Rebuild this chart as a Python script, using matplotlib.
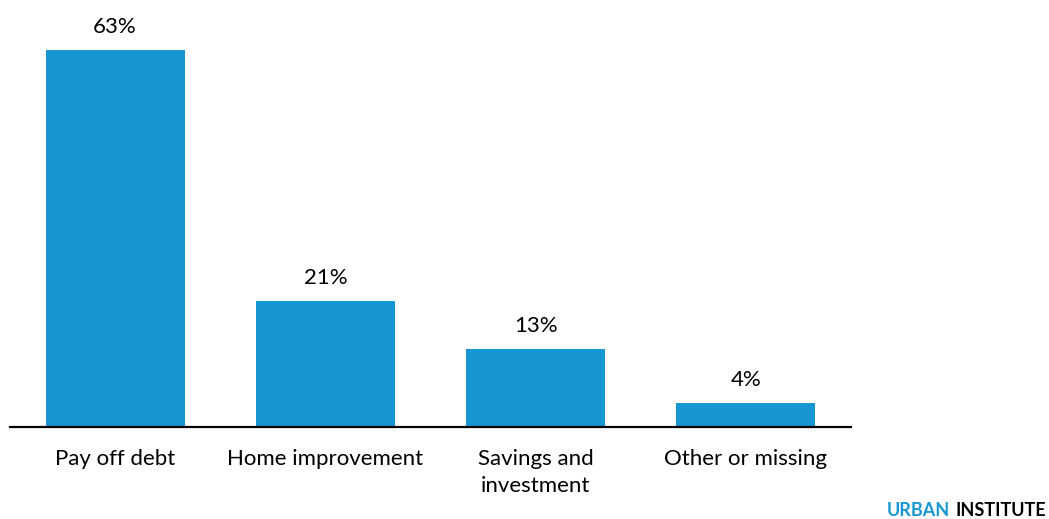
import matplotlib
matplotlib.use('Agg')
import matplotlib.pyplot as plt

plt.rcParams['font.family'] = ['Lato', 'DejaVu Sans']

# data
categories = ['Pay off debt', 'Home improvement', 'Savings and\ninvestment', 'Other or missing']
shares = [63, 21, 13, 4]

blue = '#1696d2'

fig = plt.figure(figsize=(10.49, 5.19), dpi=100)
ax = fig.add_axes([10 / 1049, 1 - 427 / 519, 841 / 1049, 0.807])

xs = range(len(categories))
bars = ax.bar(xs, shares, width=0.66, color=blue, zorder=2)
for x, v in zip(xs, shares):
    ax.annotate('{}%'.format(v), (x, v), xytext=(0, 9.5), textcoords='offset points',
                ha='center', va='bottom', fontsize=16, color='#000000')

ax.set_xlim(-0.5, 3.5)
ax.set_ylim(0, 70)
ax.set_xticks(list(xs))
ax.set_xticklabels(categories, fontsize=16, linespacing=1.42)
ax.tick_params(axis='x', length=0, pad=16)
ax.set_yticks([])
for s in ['top', 'right', 'left']:
    ax.spines[s].set_visible(False)
ax.spines['bottom'].set_linewidth(1.6)
ax.spines['bottom'].set_color('#000000')
ax.spines['bottom'].set_zorder(3)

# branding
inst = fig.text(1046 / 1049, 2.5 / 519, 'INSTITUTE', ha='right', va='baseline', fontsize=13,
                fontweight='bold', color='#000000')
fig.canvas.draw()
bb = inst.get_window_extent()
fig.text((bb.x0 - 5) / 1049, 2.5 / 519, 'URBAN', ha='right', va='baseline', fontsize=13,
         fontweight='bold', color=blue)

fig.savefig('out.png', dpi=100)
